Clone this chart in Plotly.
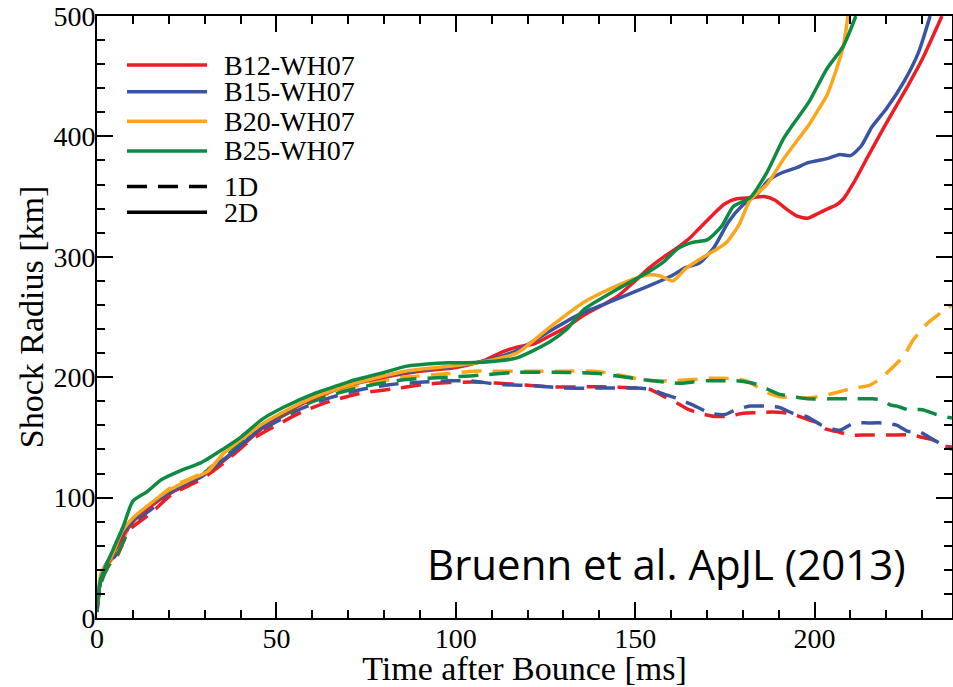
import plotly.graph_objects as go

# ---------------- data ----------------
# 2D runs (solid)
t_b12_2d = [0, 1, 2, 4, 7, 10, 15, 20, 25, 30, 35, 40, 45, 50, 60, 70, 80, 90, 100, 108, 113, 117, 122, 126, 131, 136, 141, 145, 150, 154, 158, 161, 165, 168, 172, 175, 178, 182, 186, 189, 192, 195, 198, 201, 203, 206, 208, 211, 215, 220, 226, 230, 235.5]
r_b12_2d = [8, 32, 40, 50, 67, 80, 93, 103, 111, 120, 130, 142, 155, 166, 182, 193, 200, 205, 208, 214, 221, 225, 228, 234, 242, 252, 260, 267, 280, 291, 300, 306, 315, 324, 336, 344, 348, 349, 350, 347, 340, 334, 332, 336, 339, 343, 348, 362, 384, 411, 442, 464, 500]

t_b15_2d = [0, 1, 2, 4, 7, 10, 15, 20, 25, 30, 35, 40, 45, 50, 60, 70, 80, 90, 100, 110, 117, 126, 135, 145, 154, 160, 164, 168, 172, 176, 180, 184, 187, 191, 195, 198, 201, 204, 207, 210, 213, 216, 220, 225, 229, 232.2]
r_b15_2d = [8, 32, 42, 52, 70, 81, 95, 104, 112, 120, 131, 143, 156, 167, 183, 194, 201, 206, 209, 215, 222, 238, 253, 265, 276, 284, 291, 295, 308, 329, 343, 352, 363, 370, 374, 378, 380, 382, 385, 384, 392, 408, 423, 446, 470, 500]

t_b20_2d = [0, 1, 2, 4, 7, 10, 14, 20, 26, 31, 35, 40, 46, 50, 61, 72, 86, 98, 108, 117, 126, 135.6, 145, 150, 154, 157, 160.5, 164, 168, 172, 175.5, 179, 182, 186.7, 191.3, 195, 198.3, 201, 203.4, 206, 208, 209.3]
r_b20_2d = [10, 36, 42, 51, 72, 83, 93, 106, 115, 122, 136, 148, 161, 168, 184, 195, 205, 209, 213, 220, 241, 262, 276, 282, 285, 284, 280, 290, 298, 305, 312, 327, 347, 360, 381, 396, 409, 422, 434, 455, 475, 500]

t_b25_2d = [0, 1, 2, 4.5, 7.3, 10, 14, 18, 23, 29, 35, 40, 46, 52, 61, 67, 72, 80, 86, 92, 98, 103, 110, 117, 126, 131, 135.6, 145, 154, 158, 162, 166, 170, 174, 177.4, 182, 186.7, 191.3, 194, 198.3, 203.4, 208, 211.5]
r_b25_2d = [10, 32, 40, 57, 76, 97, 105, 115, 122, 129, 140, 150, 165, 175, 187, 193, 198, 204, 209, 211, 212, 212, 213, 216, 229, 240, 256, 273, 288, 296, 307, 312, 314, 325, 342, 349, 370, 398, 410, 428, 456, 475, 500]

# 1D runs (dashed)
t_b12_1d = [0, 1, 3, 5.5, 9, 15, 21, 29, 35, 43, 50, 57, 65, 74, 82, 91, 98, 105, 117, 126, 141, 150, 154, 158, 162, 165, 168, 172, 176, 180, 184, 188, 193, 197, 200, 203, 206, 210, 215, 221, 227, 230, 233, 236, 238.3]
r_b12_1d = [5, 30, 43, 51, 73, 87, 103, 115, 128, 148, 160, 171, 180, 187, 190, 194, 195.5, 196, 194, 192, 192, 191, 190, 184, 178, 173, 170, 167.5, 167.5, 170, 170.5, 171, 170, 166, 163, 157, 155, 152, 152, 152, 152, 150, 148, 143, 142]

t_b15_1d = [0, 1, 3, 5.5, 9, 15, 21, 29, 35, 43, 50, 57, 65, 74, 82, 91, 98, 104, 112, 122, 130, 140, 150, 154, 158, 162, 166, 171, 175, 178, 182, 186, 190, 194, 198, 202, 207, 211, 215, 219, 223, 226, 229, 232, 235, 238.3]
r_b15_1d = [15, 30, 45, 53, 76, 90, 105, 117, 130, 151, 163, 174, 183, 190, 194, 196, 197, 197, 194, 193, 191, 191, 191, 190, 186, 182, 177, 170, 169, 173, 176, 176, 175, 170, 167, 160, 156, 162, 162, 162, 160, 155, 155, 150, 145, 140]

t_b20_1d = [0, 1, 3, 6, 10, 15, 21, 29, 35, 43, 50, 57, 65, 74, 86, 98, 105, 110, 120, 130, 139, 143, 147, 152, 156, 160, 166, 170, 176, 181, 184, 187, 190, 194, 199, 203, 207, 211, 215, 218, 221, 224.7, 227.5, 231.2, 235.9, 238.3]
r_b20_1d = [10, 30, 44, 57, 82, 95, 109, 120, 133, 155, 167, 178, 187, 194, 200, 203, 205, 205, 205, 205, 205, 203, 201, 198, 197, 197, 198, 199, 199, 197, 192, 187, 184, 183, 183, 185, 188, 191, 193, 198, 206, 217, 231, 244, 255, 260]

t_b25_1d = [0, 1, 3, 6, 10, 15, 21, 29, 35, 43, 50, 57, 65, 74, 86, 98, 104, 117, 131, 140, 145, 152, 158, 163, 166, 170, 174, 178, 181, 184, 187, 190, 194, 198, 204, 210, 216, 219, 221, 223, 226, 230, 234, 238.3]
r_b25_1d = [5, 28, 42, 55, 80, 93, 107, 119, 132, 153, 165, 176, 185, 192, 198, 200, 201, 204, 204, 203, 201, 198, 196, 195, 196, 197, 197, 197, 196, 194, 190, 186, 184, 182, 182, 182, 182, 181, 177, 176, 173, 173, 169, 166]

model_names = ["B12-WH07", "B15-WH07", "B20-WH07", "B25-WH07"]
model_colors = ["#EE1C25", "#3A54A4", "#FBA61B", "#0F8A44"]
dim_names = ["1D", "2D"]
dim_dashes = ["20px,11px", "solid"]

x_range = [0, 238.3]
y_range = [0, 500]
x_title = "Time after Bounce [ms]"
y_title = "Shock Radius [km]"
credit = "Bruenn et al. ApJL (2013)"

series_1d = [(t_b12_1d, r_b12_1d), (t_b15_1d, r_b15_1d), (t_b20_1d, r_b20_1d), (t_b25_1d, r_b25_1d)]
series_2d = [(t_b12_2d, r_b12_2d), (t_b15_2d, r_b15_2d), (t_b20_2d, r_b20_2d), (t_b25_2d, r_b25_2d)]

SERIF = "Liberation Serif, Times New Roman, serif"

fig = go.Figure()
for (t, r), name, col in zip(series_1d, model_names, model_colors):
    fig.add_trace(go.Scatter(x=t, y=r, mode="lines", name=name + " 1D", showlegend=False,
                             line=dict(color=col, width=3.5, dash=dim_dashes[0], shape="spline", smoothing=0.6)))
for (t, r), name, col in zip(series_2d, model_names, model_colors):
    fig.add_trace(go.Scatter(x=t, y=r, mode="lines", name=name + " 2D", showlegend=False,
                             line=dict(color=col, width=3.5, dash=dim_dashes[1], shape="spline", smoothing=0.6)))

# legend (drawn manually to match the tight spacing of the original)
leg_y = [0.9185, 0.874, 0.8253, 0.7759, 0.7166, 0.6739]
leg_labels = model_names + dim_names
leg_colors = model_colors + ["black", "black"]
leg_dash = ["solid"] * 4 + [dim_dashes[0], "solid"]
shapes = []
annotations = []
for yy, lab, col, ds in zip(leg_y, leg_labels, leg_colors, leg_dash):
    shapes.append(dict(type="line", xref="paper", yref="paper", x0=0.0351, x1=0.1287, y0=yy, y1=yy,
                       line=dict(color=col, width=3.5, dash=ds)))
    annotations.append(dict(xref="paper", yref="paper", x=0.1474, y=yy, text=lab, showarrow=False,
                            xanchor="left", yanchor="middle", borderpad=0,
                            font=dict(family=SERIF, size=28, color="black")))

annotations.append(dict(xref="paper", yref="paper", x=0.666, y=0.09, text=credit, showarrow=False,
                        xanchor="center", yanchor="middle", font=dict(family="Open Sans, Lato, sans-serif", size=42, color="black")))

axis_common = dict(showgrid=False, zeroline=False, showline=True, linecolor="black", linewidth=2,
                   mirror="allticks", ticks="inside", ticklen=16, tickwidth=2, tickcolor="black",
                   automargin=False, ticklabelstandoff=-6,
                   tickfont=dict(family=SERIF, size=28, color="black"))

fig.update_layout(
    width=953, height=687,
    margin=dict(l=97, r=1, t=16, b=69),
    paper_bgcolor="white", plot_bgcolor="white",
    showlegend=False,
    shapes=shapes, annotations=annotations,
    xaxis=dict(range=x_range, dtick=50, tick0=0,
               minor=dict(dtick=10, ticks="inside", ticklen=8, tickwidth=2, tickcolor="black"),
               title=dict(text=x_title, font=dict(family=SERIF, size=34, color="black"), standoff=2),
               **axis_common),
    yaxis=dict(range=y_range, dtick=100, tick0=0,
               minor=dict(dtick=20, ticks="inside", ticklen=8, tickwidth=2, tickcolor="black"),
               title=dict(text=y_title, font=dict(family=SERIF, size=34, color="black"), standoff=0),
               **axis_common),
)

fig.write_html("out.html", config={"displayModeBar": False},
               post_script="document.body.style.margin='0';document.body.style.overflow='hidden';")
